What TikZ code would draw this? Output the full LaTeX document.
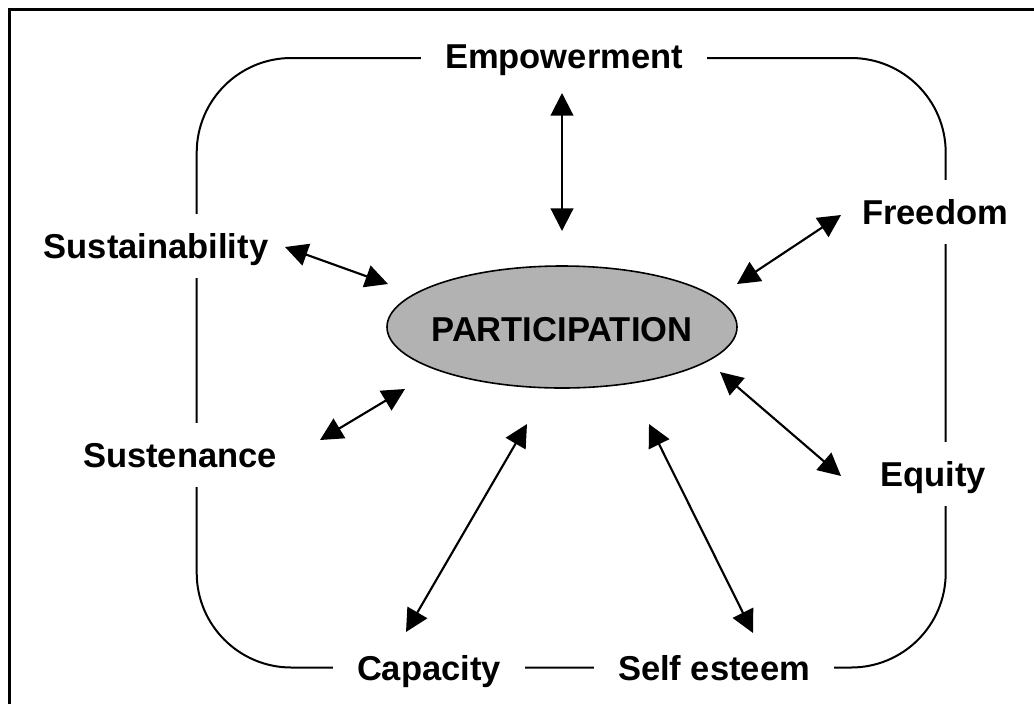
\documentclass[tikz,border=0pt]{standalone}
\usepackage{fontspec}
\setmainfont{Liberation Sans}
\usetikzlibrary{arrows.meta,shapes.geometric}

\tikzset{every picture/.style={line width=0.75pt}}
\tikzset{
  lbl/.style={fill=white, inner xsep=18pt, inner ysep=15pt, text height=18.6pt, text depth=0pt,
    font=\fontsize{25.9}{31}\selectfont\bfseries},
  dbl/.style={line width=1.6pt, {Triangle[length=17pt,width=17pt]}-{Triangle[length=17pt,width=17pt]}}
}

\begin{document}
\begin{tikzpicture}[x=0.75pt,y=0.75pt,yscale=-1,xscale=1]
    \useasboundingbox (0,0) rectangle (1034,704);

    %Frame
    \draw [line width=2.25pt, line join=miter] (9.5,704) -- (9.5,9.5) -- (1034,9.5) ;
    %Rounded Rect
    \draw [line width=1.5pt, rounded corners=71pt] (196.7,58) rectangle (945.7,667.5) ;

    %Shape: Ellipse
    \node [draw, line width=1.2pt, fill={rgb, 255:red, 178; green, 178; blue, 178}, ellipse, inner sep=0pt,
      minimum width=262.5pt, minimum height=91.5pt] (part) at (562,327) {};
    % Text Node
    \node [lbl, fill=none] (ptxt) at (562,329) {PARTICIPATION};

    % Text Node
    \node [lbl] (emp) at (564,56) {Empowerment};
    % Text Node
    \node [lbl] (sust) at (156,246) {Sustainability};
    % Text Node
    \node [lbl] (suste) at (180,455) {Sustenance};
    % Text Node
    \node [lbl] (free) at (935,212) {Freedom};
    % Text Node
    \node [lbl] (equ) at (933,474) {Equity};
    % Text Node
    \node [lbl] (cap) at (429,668) {Capacity};
    % Text Node
    \node [lbl] (self) at (714,668) {Self esteem};

    %Arrow ends
    \coordinate (emp-a) at (562,93);   \coordinate (emp-b) at (562,231);
    \coordinate (sust-a) at (285,247); \coordinate (sust-b) at (388,284);
    \coordinate (free-a) at (841,215); \coordinate (free-b) at (737,284);
    \coordinate (suste-a) at (320,440); \coordinate (suste-b) at (405,389);
    \coordinate (equ-a) at (841,476);  \coordinate (equ-b) at (720,372);
    \coordinate (cap-a) at (406,632);  \coordinate (cap-b) at (527,424);
    \coordinate (self-a) at (753,633); \coordinate (self-b) at (649,424);

    %Straight Lines
    \draw [dbl] (emp-a) -- (emp-b) ;
    \draw [dbl] (sust-a) -- (sust-b) ;
    \draw [dbl] (free-a) -- (free-b) ;
    \draw [dbl] (suste-a) -- (suste-b) ;
    \draw [dbl] (equ-a) -- (equ-b) ;
    \draw [dbl] (cap-a) -- (cap-b) ;
    \draw [dbl] (self-a) -- (self-b) ;

\end{tikzpicture}
\end{document}
